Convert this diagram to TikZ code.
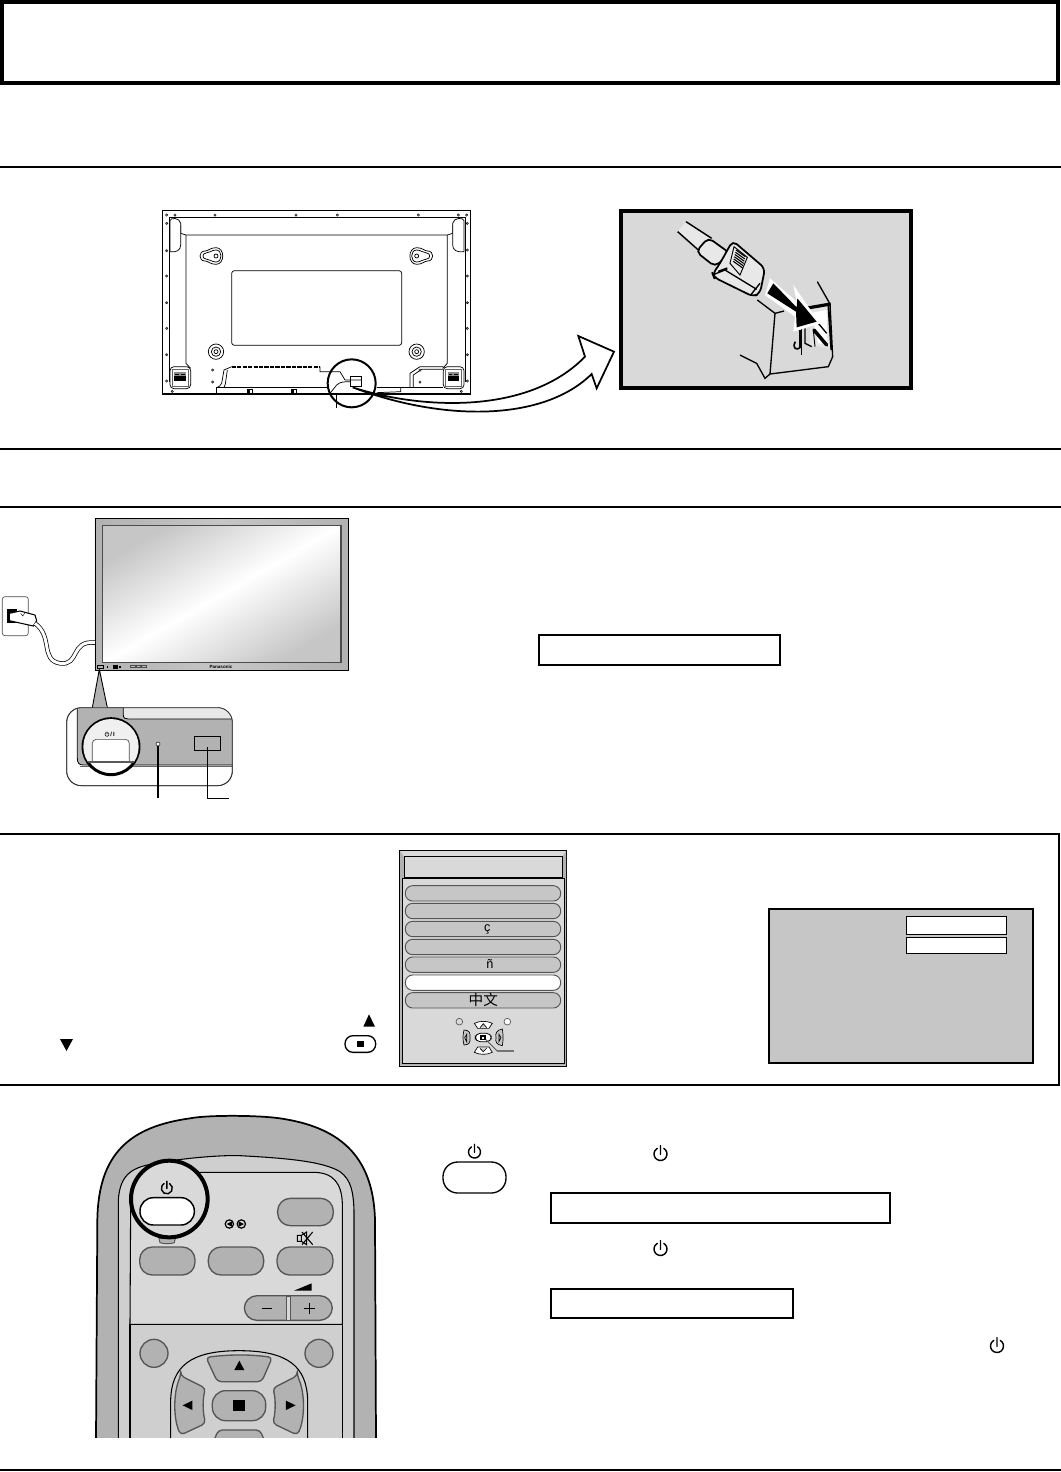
\documentclass[tikz,border=0pt]{standalone}
\usepackage{fontspec}
\usetikzlibrary{calc}
\setmainfont{Liberation Sans}
\newfontfamily\cjkfont{Noto Sans CJK SC}
\definecolor{panelgray}{HTML}{D9D9D9}
\definecolor{midgray}{HTML}{C6C6C6}
\definecolor{btngray}{HTML}{B2B2B2}
\definecolor{edgegray}{HTML}{555555}
\tikzset{
  rule/.style={line width=1.5pt,black},
  framebox/.style={draw=black,line width=1.5pt,fill=white},
  fine/.style={draw=black,line width=0.55pt},
  hair/.style={draw=black,line width=0.4pt},
  pillbtn/.style={draw=edgegray,line width=1pt,fill=btngray,rounded corners=9.5pt},
  menupill/.style={draw=edgegray,line width=0.7pt,fill=midgray,rounded corners=5.5pt},
  powerglyph/.pic={\draw[black,line width=1.05pt,line cap=round] (-60:1) arc[start angle=-60,end angle=240,radius=1] (0,0.05) -- (0,-1.3);},
  tinyglyph/.pic={\draw[black,line width=0.4pt] (-60:1) arc[start angle=-60,end angle=240,radius=1] (0,0.05) -- (0,-1.3);}
}
\begin{document}
\begin{tikzpicture}[x=0.75pt,y=-0.75pt]
\useasboundingbox (0,0) rectangle (1061,1472);
% title box and rules
\draw[black,line width=3pt] (2,2) rectangle (1058,83);
\draw[rule] (0,167) -- (1061,167);
\draw[rule] (0,449) -- (1061,449);
\draw[rule] (0,507) -- (1061,507);
\draw[rule] (0,1470) -- (1061,1470);

% ------------ rear panel
\begin{scope}[shift={(150,200)},scale=1/3]
\draw[black,line width=1.2pt] (38,32) rectangle (962,582);
\draw[fine] (58,545) -- (58,52) -- (945,52) -- (945,545);
\draw[fine] (92,75) -- (92,100) -- (108,105) -- (892,105) -- (908,100) -- (908,75);
\draw[fine,fill=white] (60,155) -- (60,62) .. controls (60,52) and (90,52) .. (92,70) -- (92,135) .. controls (92,150) and (80,158) .. (60,155);
\draw[fine,fill=white] (942,155) -- (942,62) .. controls (942,52) and (910,52) .. (908,70) -- (908,135) .. controls (908,150) and (920,158) .. (942,155);
\draw[fine] (108,105) -- (108,490) -- (122,505);
\draw[fine] (892,105) -- (892,490) -- (878,505);
\draw[fine,rounded corners=2pt] (245,212) rectangle (755,436);
% keyholes
\foreach \kc/\ks in {198/1,800/-1}{
  \begin{scope}[shift={(\kc,168)},xscale=\ks]
  \draw[fine] (0,-25) .. controls (27,-25) and (27,25) .. (0,25) .. controls (-18,25) and (-23,15) .. (-33,15) .. controls (-53,15) and (-53,-15) .. (-33,-15) .. controls (-23,-15) and (-18,-25) .. (0,-25) -- cycle;
  \draw[fine] (0,-18) .. controls (20,-18) and (20,18) .. (0,18) .. controls (-14,18) and (-18,9) .. (-30,9) .. controls (-42,9) and (-42,-9) .. (-30,-9) .. controls (-18,-9) and (-14,-18) .. (0,-18) -- cycle;
  \draw[fine] (0,0) circle[radius=6];
  \end{scope}
}
\foreach \cx in {198,800}{
  \draw[fine] (\cx,455) circle[radius=23];
  \draw[fine] (\cx,455) circle[radius=14];
  \draw[fine] (\cx,455) circle[radius=6];
}
% terminals
\foreach \tx in {60,880}{
  \draw[fine,rounded corners=3pt] (\tx,500) rectangle (\tx+62,566);
  \draw[black!60,line width=0.4pt] (\tx+7,508) rectangle (\tx+55,558);
  \fill[black!45] (\tx+13,516) rectangle (\tx+48,528);
  \fill[black] (\tx+13,528) rectangle (\tx+48,543);
  \fill[black] (\tx+16,521) rectangle (\tx+27,526);
  \fill[black] (\tx+33,521) rectangle (\tx+44,526);
}
% bottom plate
\draw[black,line width=1.4pt,dash pattern=on 3.2pt off 0.9pt] (245,500) -- (510,500);
\draw[fine] (200,582) -- (200,563) -- (530,563);
\draw[fine] (215,550) -- (222,510) -- (245,500);
\draw[fine] (215,550) .. controls (213,558) and (205,560) .. (200,563);
\draw[fine] (232,510) -- (226,552) -- (222,563);
\draw[fine] (510,500) -- (510,515) -- (570,515) -- (585,540) -- (635,540);
\draw[fine] (635,530) rectangle (600,558);
\draw[fine] (540,580) -- (560,555) .. controls (570,545) and (585,545) .. (600,545);
\draw[fine] (560,625) -- (560,580);
\draw[fine] (780,562) -- (780,520) -- (810,500) -- (880,500);
\draw[fine] (790,562) -- (790,525) -- (815,508) -- (880,508);
\draw[fine] (680,562) -- (880,562);
\draw[fine] (752,562) -- (752,575) -- (680,578);
\foreach \mx in {300,432}{
  \draw[fine] (\mx-7,568) rectangle (\mx+7,581);
  \fill[black] (\mx-5,570) rectangle (\mx+1,580);
}
% small screws
\foreach \sx/\sy in {50/45,75/45,195/45,438/45,562/45,805/45,925/45,950/45,50/70,952/70,50/152,952/150,50/228,952/228,50/308,952/308,50/385,952/385,50/464,952/464,50/543,952/543,67/574,934/574,188/510,188/546,810/510,810/546}{
  \draw[black,line width=0.35pt,fill=white] (\sx,\sy) circle[radius=3.5];
  \fill[black] (\sx,\sy) circle[radius=1.2];
}
% lens circle
\draw[black,line width=1.5pt] (605,550) circle[radius=72];
% curved arrow
\draw[black,line width=1.3pt,fill=white,line join=miter] (608,562)
  .. controls (800,625) and (1130,650) .. (1305,470)
  -- (1285,408) -- (1392,455) -- (1340,565) -- (1325,522)
  .. controls (1180,665) and (880,665) .. (608,562) -- cycle;
\end{scope}

% ------------ plug inset
\draw[black,line width=3pt,fill=panelgray] (621,211) rectangle (911,388);
\begin{scope}[shift={(610,200)},scale=1/3]
% socket
\draw[black,line width=1pt] (622,245) -- (660,312) -- (668,470) -- (655,500) -- (480,522);
\draw[black,line width=1pt] (442,300) -- (495,340) -- (480,522);
\draw[black,line width=1pt] (390,465) -- (440,490) -- (465,535) -- (480,522);
\draw[black,line width=1pt] (495,340) -- (522,333);
\fill[panelgray!70!white] (600,330) -- (655,318) -- (660,445) -- (600,435) -- cycle;
\fill[white] (605,338) -- (650,330) -- (652,430) -- (625,430) -- cycle;
\draw[black,line width=2.4pt] (592,324) -- (662,312);
\draw[black,line width=1.4pt] (655,314) -- (664,450);
\draw[black,line width=2.6pt,line cap=round] (612,390) -- (650,435);
\draw[black,line width=1pt] (625,370) -- (650,400);
\draw[black,line width=1pt] (585,385) -- (585,430) -- (605,440);
\draw[black,line width=0.7pt] (610,390) -- (615,440);
\draw[black,line width=2.2pt] (570,390) -- (570,443);
\draw[black,line width=1.2pt] (556,425) .. controls (545,445) and (560,452) .. (570,443);
\draw[black,line width=0.7pt] (575,380) -- (575,465);
% insertion arrow
\fill[white] (480,235) -- (465,285) -- (555,350) -- (550,395) -- (632,370) -- (612,345) -- (550,255) -- (560,305) -- cycle;
\fill[black] (490,250) -- (472,280) -- (558,335) -- (560,382) -- (620,365) -- (562,295) -- (560,322) -- cycle;
% cable and plug
\fill[panelgray!60!white] (228,65) -- (305,115) -- (262,152) -- (203,95) -- cycle;
\draw[black,line width=1.1pt] (228,65) -- (305,115) (203,95) -- (265,150);
\draw[black,line width=1.3pt,fill=panelgray!60!white,rounded corners=4pt] (295,113) -- (360,160) -- (315,200) -- (258,155) -- cycle;
\draw[black,line width=1.3pt,fill=panelgray!60!white,rounded corners=4pt] (368,122) -- (465,205) -- (450,280) -- (430,290) -- (312,232) -- (308,222) -- (330,190) -- cycle;
\draw[black,line width=1pt] (315,222) -- (345,210) -- (440,268);
\draw[black,line width=1.6pt] (325,215) -- (352,205);
\draw[black,line width=0.7pt] (372,140) -- (412,172) -- (390,225) -- (360,190) -- cycle;
\foreach \t in {0,0.15,0.3,0.45,0.6,0.75}{
  \draw[black,line width=0.8pt] ($(378,150)!\t!(367,195)$) -- ++(28,20);
}
\draw[black,line width=1pt] (422,285) -- (450,250);
\end{scope}

% ------------ monitor
\begin{scope}[shift={(0,510)},scale=1/3]
\draw[black,line width=0.4pt,shade,left color=btngray,right color=btngray,middle color=midgray] (285,25) rectangle (1045,480);
\draw[black!70,line width=0.8pt,shade,top color=midgray,bottom color=midgray,middle color=white,shading angle=30] (307,47) rectangle (1023,458);
% front-panel bits
\draw[hair] (292,465) rectangle (310,476);
\draw[black,line width=0.3pt] (322,467) -- (322,474);
\fill[black] (340,465) rectangle (354,477);
\fill[black] (358,468) rectangle (364,475);
\foreach \bx in {391,408,425}{\draw[black!70,line width=0.35pt] (\bx,466) rectangle (\bx+14,473);}
\node[inner sep=0pt,font=\bfseries\fontsize{3.4}{4}\selectfont] (brandmark) at (663,470) {Panasonic};
% outlet
\draw[black!70,line width=0.5pt,fill=white,rounded corners=2pt] (7,260) rectangle (85,377);
\fill[black] (22,297) rectangle (52,338);
\draw[black,line width=0.8pt,fill=white] (28,310) -- (60,303) -- (105,315) -- (110,332) -- (100,348) -- (28,332) -- cycle;
\draw[black,line width=0.3pt] (62,310) -- (68,318) -- (74,310);
% cord
\draw[black,line width=3.3pt] (105,340) .. controls (160,380) and (120,450) .. (180,460) .. controls (240,468) and (210,390) .. (285,398);
\draw[white,line width=2.2pt] (105,340) .. controls (160,380) and (120,450) .. (180,460) .. controls (240,468) and (210,390) .. (285,398);
% detail
\draw[black!80,line width=0.6pt,fill=white,rounded corners=11pt] (200,593) rectangle (697,827);
\fill[btngray] (298,478) -- (277,600) -- (322,600) -- cycle;
\draw[black,line width=0.7pt] (298,478) -- (277,593) (298,478) -- (322,593);
\begin{scope}
\clip[rounded corners=11pt] (200,593) rectangle (697,827);
\fill[btngray] (232,585) -- (700,585) -- (700,765) -- (250,765) .. controls (238,765) and (232,760) .. (232,745) -- cycle;
\draw[black,line width=0.6pt] (232,585) -- (232,745) .. controls (232,760) and (238,765) .. (250,765) -- (700,765);
\draw[black!60,line width=0.4pt] (240,770) -- (700,770);
\draw[black,line width=0.6pt,fill=panelgray!60!white] (370,585) -- (370,615) .. controls (370,625) and (376,627) .. (385,627) -- (700,627) -- (700,585) -- cycle;
\end{scope}
\draw[black!80,line width=0.6pt,rounded corners=11pt] (200,593) rectangle (697,827);
\draw[black,line width=0.7pt] (583,679) rectangle (662,722);
\draw[black,line width=0.8pt] (622,710) -- (622,865) -- (688,865);
\draw[black!70,line width=0.6pt,fill=white] (474,702) circle[radius=6];
\draw[black,line width=0.8pt] (474,708) -- (474,865);
% power circle
\draw[black,line width=2.2pt,fill=white] (333,710) circle[radius=84];
\begin{scope}
\clip (333,710) circle[radius=83];
\fill[panelgray!40!white] (240,620) rectangle (420,755);
\draw[black!70,line width=0.5pt,fill=white,rounded corners=3pt] (277,755) -- (277,688) -- (388,688) -- (388,755);
\draw[black!65,line width=1.5pt] (240,755) -- (420,755);
\end{scope}
\pic[scale=2] at (321,673) {tinyglyph};
\node[inner sep=0pt,font=\bfseries\fontsize{4.5}{5}\selectfont] (panelslash) at (338,673) {/\,I};
\end{scope}

% ------------ language section frame
\draw[black,line width=1.5pt] (0,834) -- (1059,834) -- (1059,1085) -- (0,1085);
\fill[black] (60,1039) -- (73,1039) -- (66.5,1051) -- cycle;
\begin{scope}[shift={(340,845)},scale=1/3]
\fill[black] (70,545) -- (105,545) -- (87,508) -- cycle;
\draw[black,line width=1pt,rounded corners=6pt] (15,572) rectangle (107,622);
\fill[black] (52,588) rectangle (72,605);
% menu panel
\draw[black,line width=1.2pt,fill=panelgray] (178,16) rectangle (680,664);
\fill[btngray] (180,18) -- (192,35) -- (192,98) -- (180,100) -- cycle;
\fill[btngray] (678,18) -- (668,35) -- (668,98) -- (678,100) -- cycle;
\fill[btngray] (187,100) -- (187,655) -- (180,662) -- (180,100) -- cycle;
\fill[btngray] (672,100) -- (672,655) -- (678,662) -- (678,100) -- cycle;
\fill[btngray] (187,655) -- (672,655) -- (678,662) -- (180,662) -- cycle;
\draw[black,line width=0.7pt] (192,35) rectangle (668,98);
\draw[black,line width=1pt] (187,100) -- (672,100);
\draw[black,line width=0.5pt] (187,100) -- (187,655) -- (672,655) -- (672,100);
\foreach \py in {122,175,229,283,336,443}{
  \draw[menupill] (196,\py) rectangle (662,\py+46);
}
\draw[menupill,fill=white] (196,390) rectangle (662,436);
\node[inner sep=0pt,font=\fontsize{9.5}{10}\selectfont] (langc) at (442,253) {ç};
\node[inner sep=0pt,font=\fontsize{9.5}{10}\selectfont] (langn) at (450,358) {ñ};
\node[inner sep=0pt,font=\cjkfont\fontsize{11}{12}\selectfont] (langz) at (430,466) {中文};
% mini remote
\draw[edgegray,line width=0.5pt,fill=panelgray] (358,530) circle[radius=10];
\draw[edgegray,line width=0.5pt,fill=white] (502,530) circle[radius=10];
\draw[black,line width=0.5pt,fill=white] (403,535) .. controls (420,527) and (440,527) .. (457,535) -- (447,550) -- (413,550) -- cycle;
\draw[black,line width=0.5pt,fill=midgray] (420,548) -- (430,536) -- (440,548);
\draw[black,line width=0.5pt,fill=white] (403,622) .. controls (420,630) and (440,630) .. (457,622) -- (447,606) -- (413,606) -- cycle;
\draw[black,line width=0.5pt,fill=midgray] (420,610) -- (430,620) -- (440,610);
\draw[black,line width=0.5pt,fill=midgray] (372,555) .. controls (388,555) and (392,565) .. (390,578) .. controls (392,590) and (388,600) .. (372,600) .. controls (368,585) and (368,570) .. (372,555) -- cycle;
\draw[black,line width=0.5pt,fill=midgray] (487,552) .. controls (470,555) and (465,565) .. (468,578) .. controls (465,590) and (470,600) .. (487,602) .. controls (490,585) and (490,570) .. (487,552) -- cycle;
\draw[black,line width=0.6pt,fill=white,rounded corners=3.5pt] (406,565) rectangle (454,590);
\fill[black] (421,570) rectangle (438,586);
\fill[white] (426,575) rectangle (433,581);
\draw[black,line width=0.5pt] (380,568) -- (380,590) -- (374,578) -- cycle;
\draw[black,line width=0.5pt] (477,568) -- (477,590) -- (483,578) -- cycle;
\draw[edgegray,line width=0.7pt] (438,584) -- (472,618);
\draw[black!55,line width=1pt] (472,618) -- (522,618);
\end{scope}
% OSD box
\draw[black,line width=1.5pt,fill=midgray] (769,909) rectangle (1033,1063);
\draw[black,line width=0.8pt,fill=white] (906.7,916.7) rectangle (1006.7,934.3);
\draw[black,line width=0.8pt,fill=white] (906.7,937.3) rectangle (1006.7,953.3);

% callout rectangles
\draw[framebox] (539,635) rectangle (780,665);
\draw[framebox] (551,1193) rectangle (890,1223);
\draw[framebox] (551,1289) rectangle (793,1318);
\draw[black,line width=1pt,rounded corners=11pt] (443,1162) rectangle (506,1193);
\pic[scale=6] at (474.5,1152) {powerglyph};
\pic[scale=6.5] at (660.5,1154) {powerglyph};
\pic[scale=6.5] at (660.5,1249) {powerglyph};
\pic[scale=6.5] at (997,1346) {powerglyph};

% ------------ remote
\begin{scope}[shift={(90,1110)},scale=1/3]
\begin{scope}
\clip (0,0) rectangle (900,981);
\draw[black,line width=1.3pt,fill=btngray] (18,990) -- (22,330) .. controls (25,130) and (120,50) .. (300,25) .. controls (350,15) and (500,15) .. (570,25) .. controls (740,50) and (850,130) .. (855,330) -- (858,990) -- cycle;
\draw[black,line width=0.8pt,fill=midgray!85!white] (85,990) -- (85,270) .. controls (90,190) and (130,170) .. (200,160) .. controls (300,140) and (420,135) .. (450,137) .. controls (600,145) and (700,155) .. (750,185) .. controls (785,210) and (790,250) .. (792,300) -- (792,990) -- cycle;
\draw[black,line width=0.8pt,fill=panelgray] (120,643) -- (122,280) .. controls (125,220) and (160,187) .. (220,187) -- (670,187) .. controls (730,187) and (755,220) .. (757,280) -- (757,643) -- cycle;
\draw[black,line width=0.8pt,fill=midgray!85!white] (120,990) -- (120,643) -- (757,643) -- (757,990);
% upper buttons
\draw[pillbtn] (563,265) rectangle (730,347);
\draw[pillbtn] (149,411) rectangle (315,495);
\draw[pillbtn] (355,411) rectangle (521,495);
\draw[pillbtn] (561,411) rectangle (729,495);
\draw[edgegray,line width=0.7pt,fill=btngray] (207,385) -- (210,398) .. controls (220,402) and (245,402) .. (253,398) -- (256,385) -- cycle;
\draw[pillbtn] (463,557) rectangle (727,631);
\draw[edgegray,line width=0.7pt,fill=panelgray] (590,558) rectangle (602,631);
\draw[black,line width=0.6pt] (515,595) -- (547,595) (642,595) -- (674,595) (658,579) -- (658,611);
\fill[black] (612,542) -- (665,520) -- (665,542) -- cycle;
% swap icon
\draw[black,line width=0.9pt] (418,342) circle[radius=12.5] (454,342) circle[radius=12.5];
\fill[black] (410,342) -- (426,334) -- (426,350) -- cycle;
\fill[black] (462,342) -- (446,334) -- (446,350) -- cycle;
% mute icon
\draw[black,line width=0.8pt] (622,376) rectangle (634,394) (634,376) -- (650,366) -- (650,404) -- (634,394);
\draw[black,line width=0.8pt] (636,366) -- (668,404) (668,366) -- (636,404);
% power circle
\draw[black,line width=3pt,fill=panelgray] (238,267) circle[radius=115];
\draw[black,line width=1.1pt,fill=white,rounded corners=10pt] (150,263) rectangle (313,345);
\pic[scale=5.5] at (230.5,235) {powerglyph};
% side round buttons
\draw[edgegray,line width=1pt,fill=btngray] (192,730) circle[radius=42];
\draw[edgegray,line width=1pt,fill=btngray] (687,730) circle[radius=42];
% d-pad
\draw[black,line width=0.8pt] (242,990) -- (242,870) .. controls (245,770) and (300,722) .. (447,722) .. controls (595,722) and (650,770) .. (653,870) -- (653,990);
\draw[edgegray,line width=1pt,fill=btngray,rounded corners=3pt] (348,742) .. controls (420,733) and (480,733) .. (547,742) -- (515,815) -- (382,815) -- cycle;
\draw[edgegray,line width=1pt,fill=btngray,rounded corners=3pt] (272,797) -- (347,835) .. controls (338,865) and (338,905) .. (347,940) -- (272,975) .. controls (250,925) and (250,850) .. (272,797) -- cycle;
\draw[edgegray,line width=1pt,fill=btngray,rounded corners=3pt] (622,797) -- (548,835) .. controls (557,865) and (557,905) .. (548,940) -- (622,975) .. controls (645,925) and (645,850) .. (622,797) -- cycle;
\draw[pillbtn,rounded corners=10pt] (367,842) rectangle (527,932);
\draw[edgegray,line width=1pt,fill=btngray,rounded corners=3pt] (385,960) -- (510,960) -- (535,1020) -- (360,1020) -- cycle;
\fill[black] (430,870) rectangle (465,903);
\fill[black] (433,780) -- (463,780) -- (448,752) -- cycle;
\fill[black] (278,886) -- (307,872) -- (307,900) -- cycle;
\fill[black] (617,886) -- (588,872) -- (588,900) -- cycle;
\end{scope}
\end{scope}
\end{tikzpicture}
\end{document}
